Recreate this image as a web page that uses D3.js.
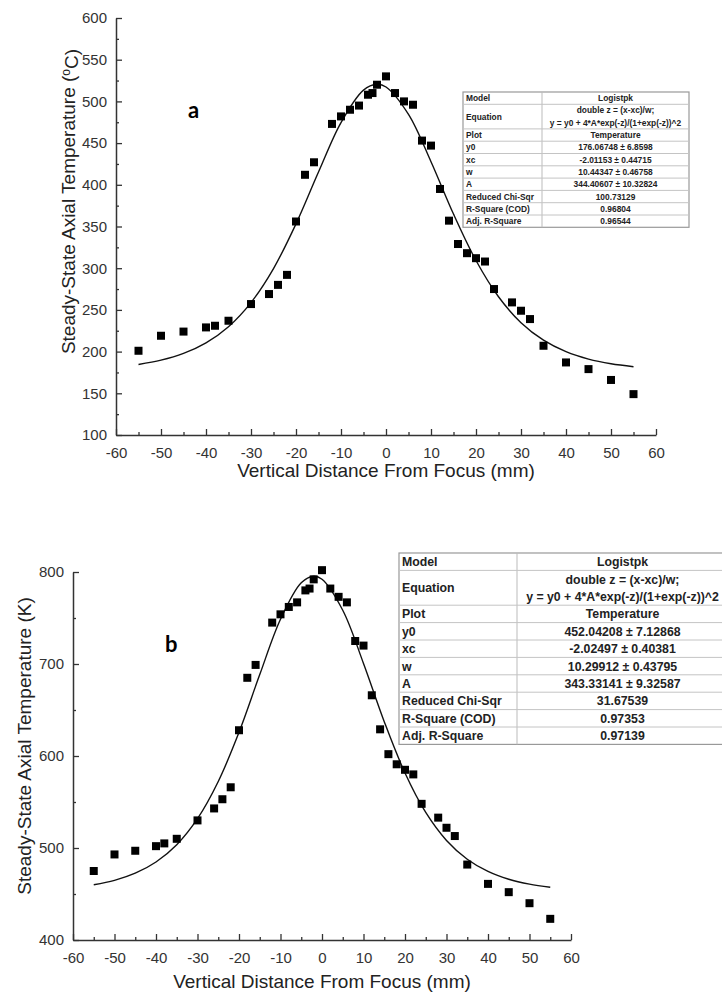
<!DOCTYPE html>
<html>
<head>
<meta charset="utf-8">
<script src="https://cdn.jsdelivr.net/npm/d3@7"></script>
<style>
  body { margin: 0; background: #fff; }
  svg { display: block; }
  .tick text { font-family: "Liberation Sans", Arial, sans-serif; fill: #333; }
</style>
</head>
<body>
<svg id="chart" width="722" height="996"></svg>
<script>
// measured points, panel a (deg C)
var distA = [-55, -50, -45, -40, -38, -35, -30, -26, -24, -22, -20, -18, -16, -12, -10, -8, -6, -4, -3, -2, 0, 2, 4, 6, 8, 10, 12, 14, 16, 18, 20, 22, 24, 28, 30, 32, 35, 40, 45, 50, 55];
var tempA = [201, 219, 224, 229, 231, 237, 257, 269, 280, 292, 356, 412, 427, 473, 482, 490, 495, 508, 510, 520, 530, 510, 500, 496, 453, 447, 395, 357, 329, 318, 312, 308, 275, 259, 249, 239, 207, 187, 179, 166, 149];

// measured points, panel b (K)
var distB = [-55, -50, -45, -40, -38, -35, -30, -26, -24, -22, -20, -18, -16, -12, -10, -8, -6, -4, -3, -2, 0, 2, 4, 6, 8, 10, 12, 14, 16, 18, 20, 22, 24, 28, 30, 32, 35, 40, 45, 50, 55];
var tempB = [475, 493, 497, 502, 505, 510, 530, 543, 553, 566, 628, 685, 699, 745, 754, 762, 767, 780, 782, 792, 802, 782, 773, 767, 725, 720, 666, 629, 602, 591, 585, 580, 548, 533, 522, 513, 482, 461, 452, 440, 423];

// fitted curve
var fitX = [-55, -50, -45, -40, -35, -30, -25, -20, -15, -10, -5, -2, 0, 5, 10, 15, 20, 25, 30, 35, 40, 45, 50, 55];
var fitA = [184.6, 189.7, 197.8, 210.5, 229.9, 258.8, 299.6, 353.2, 415.3, 474.6, 513.5, 520.5, 517.3, 484.4, 427.7, 364.9, 309.2, 265.8, 234.7, 213.7, 199.9, 191.0, 185.4, 181.9];
var fitB = [460.0, 464.8, 472.6, 484.8, 503.6, 531.9, 572.3, 625.8, 688.5, 748.6, 788.3, 795.4, 792.1, 758.4, 700.6, 637.3, 581.5, 538.6, 508.2, 487.8, 474.5, 466.0, 460.7, 457.4];

var xTicks = [-60, -50, -40, -30, -20, -10, 0, 10, 20, 30, 40, 50, 60];
var xMinor = [-55, -45, -35, -25, -15, -5, 5, 15, 25, 35, 45, 55];
var yTicksA = [100, 150, 200, 250, 300, 350, 400, 450, 500, 550, 600];
var yMinorA = [125, 175, 225, 275, 325, 375, 425, 475, 525, 575];
var yTicksB = [400, 500, 600, 700, 800];
var yMinorB = [450, 550, 650, 750];

// fit report tables
var rowNames = ["Model", "Equation", "Plot", "y0", "xc", "w", "A", "Reduced Chi-Sqr", "R-Square (COD)", "Adj. R-Square"];
var reportA = ["Logistpk", ["double z = (x-xc)/w;", "y = y0 + 4*A*exp(-z)/(1+exp(-z))^2"], "Temperature",
  "176.06748 \u00b1 6.8598", "-2.01153 \u00b1 0.44715", "10.44347 \u00b1 0.46758", "344.40607 \u00b1 10.32824",
  "100.73129", "0.96804", "0.96544"];
var reportB = ["Logistpk", ["double z = (x-xc)/w;", "y = y0 + 4*A*exp(-z)/(1+exp(-z))^2"], "Temperature",
  "452.04208 \u00b1 7.12868", "-2.02497 \u00b1 0.40381", "10.29912 \u00b1 0.43795", "343.33141 \u00b1 9.32587",
  "31.67539", "0.97353", "0.97139"];

var svg = d3.select('#chart');
var font = '"Liberation Sans", Arial, sans-serif';
var plain = function(d) { return String(d); }; // keep hyphen minus like the original

function drawPanel(p) {
  var x = d3.scaleLinear().domain([-60, 60]).range([p.left, p.right]);
  var y = d3.scaleLinear().domain(p.yDomain).range([p.bottom, p.top]);
  var g = svg.append('g');

  // minor ticks first
  g.append('g').attr('transform', 'translate(0,' + p.bottom + ')')
    .call(d3.axisBottom(x).tickValues(xMinor).tickSize(-3).tickFormat(''))
    .call(function(s) { s.select('.domain').remove(); s.selectAll('line').attr('stroke', '#333').attr('stroke-width', 1.3); });
  g.append('g').attr('transform', 'translate(' + p.left + ',0)')
    .call(d3.axisLeft(y).tickValues(p.yMinor).tickSize(-3).tickFormat(''))
    .call(function(s) { s.select('.domain').remove(); s.selectAll('line').attr('stroke', '#333').attr('stroke-width', 1.3); });

  var xa = g.append('g').attr('transform', 'translate(0,' + p.bottom + ')')
    .call(d3.axisBottom(x).tickValues(xTicks).tickFormat(plain).tickSizeInner(-6).tickSizeOuter(0).tickPadding(12));
  var ya = g.append('g').attr('transform', 'translate(' + p.left + ',0)')
    .call(d3.axisLeft(y).tickValues(p.yTicks).tickFormat(plain).tickSizeInner(-6).tickSizeOuter(0).tickPadding(9));
  [xa, ya].forEach(function(a) {
    a.select('.domain').attr('stroke', '#333').attr('stroke-width', 1.5);
    a.selectAll('line').attr('stroke', '#333').attr('stroke-width', 1.3);
    a.selectAll('text').style('font-size', p.tickSize + 'px');
  });

  // fitted line
  var line = d3.line().x(function(d) { return x(d[0]); }).y(function(d) { return y(d[1]); })
    .curve(d3.curveCatmullRom);
  g.append('path').datum(d3.zip(fitX, p.fit))
    .attr('d', line).attr('fill', 'none').attr('stroke', '#111').attr('stroke-width', 1.4);

  // data squares
  var s = 8;
  g.selectAll('rect.pt').data(d3.zip(p.dist, p.temp)).enter()
    .append('rect').attr('class', 'pt')
    .attr('x', function(d) { return x(d[0]) - s / 2; })
    .attr('y', function(d) { return y(d[1]) - s / 2; })
    .attr('width', s).attr('height', s).attr('fill', '#000');

  // axis titles
  g.append('text').attr('x', (p.left + p.right) / 2).attr('y', p.xTitleY)
    .attr('text-anchor', 'middle').style('font-family', font).style('font-size', '19px').attr('fill', '#222')
    .text('Vertical Distance From Focus (mm)');
  var yt = g.append('text').attr('transform', 'translate(' + p.yTitleX + ',' + ((p.top + p.bottom) / 2 + p.yTitleShift) + ') rotate(-90)')
    .attr('text-anchor', 'middle').style('font-family', font).style('font-size', '19px').attr('fill', '#222');
  p.yTitle(yt);

  // panel letter
  g.append('text').attr('x', p.letterX).attr('y', p.letterY)
    .style('font-family', 'Lato, "Open Sans", sans-serif').style('font-weight', 'bold').style('font-size', '22px')
    .attr('fill', '#000').text(p.letter);
}

function drawTable(t) {
  var g = svg.append('g').style('font-family', font).style('font-weight', 'bold').style('font-size', t.fs + 'px');
  var units = [1, 2, 1, 1, 1, 1, 1, 1, 1, 1];
  var tops = [], acc = 0;
  units.forEach(function(u) { tops.push(t.y0 + acc * t.unit); acc += u; });
  var height = acc * t.unit;
  g.append('rect').attr('x', t.x0).attr('y', t.y0).attr('width', t.x2 - t.x0).attr('height', height)
    .attr('fill', '#fff').attr('stroke', '#999').attr('stroke-width', 1.2);
  g.append('line').attr('x1', t.x1).attr('x2', t.x1).attr('y1', t.y0).attr('y2', t.y0 + height)
    .attr('stroke', '#bbb');
  tops.slice(1).forEach(function(ty) {
    g.append('line').attr('x1', t.x0).attr('x2', t.x2).attr('y1', ty).attr('y2', ty).attr('stroke', '#c4c4c4');
  });
  rowNames.forEach(function(name, i) {
    var h = units[i] * t.unit;
    g.append('text').attr('x', t.x0 + 3).attr('y', tops[i] + h / 2).attr('dy', '0.36em')
      .attr('fill', '#222').text(name);
    var val = t.values[i];
    var lines = Array.isArray(val) ? val : [val];
    lines.forEach(function(l, k) {
      g.append('text').attr('x', (t.x1 + t.x2) / 2)
        .attr('y', tops[i] + (k + 0.5) * t.unit).attr('dy', '0.36em')
        .attr('text-anchor', 'middle').attr('fill', '#222').text(l);
    });
  });
}

drawPanel({
  left: 116, right: 656, top: 18, bottom: 435, yDomain: [100, 600],
  yTicks: yTicksA, yMinor: yMinorA, dist: distA, temp: tempA, fit: fitA,
  tickSize: 15, xTitleY: 477, yTitleX: 75, yTitleShift: -25,
  letter: 'a', letterX: 188, letterY: 118,
  yTitle: function(t) {
    t.append('tspan').text('Steady-State Axial Temperature (');
    t.append('tspan').attr('dy', '-0.45em').style('font-size', '12px').text('o');
    t.append('tspan').attr('dy', '0.45em').text('C)');
  }
});

drawPanel({
  left: 73, right: 571, top: 572, bottom: 940, yDomain: [400, 800],
  yTicks: yTicksB, yMinor: yMinorB, dist: distB, temp: tempB, fit: fitB,
  tickSize: 15, xTitleY: 988, yTitleX: 31, yTitleShift: -10,
  letter: 'b', letterX: 165, letterY: 652,
  yTitle: function(t) { t.text('Steady-State Axial Temperature (K)'); }
});

drawTable({ x0: 463, x1: 542, x2: 689, y0: 92, unit: 12.3, fs: 8.4, values: reportA });
drawTable({ x0: 399, x1: 517, x2: 728, y0: 553, unit: 17.4, fs: 12.3, values: reportB });
</script>
</body>
</html>
